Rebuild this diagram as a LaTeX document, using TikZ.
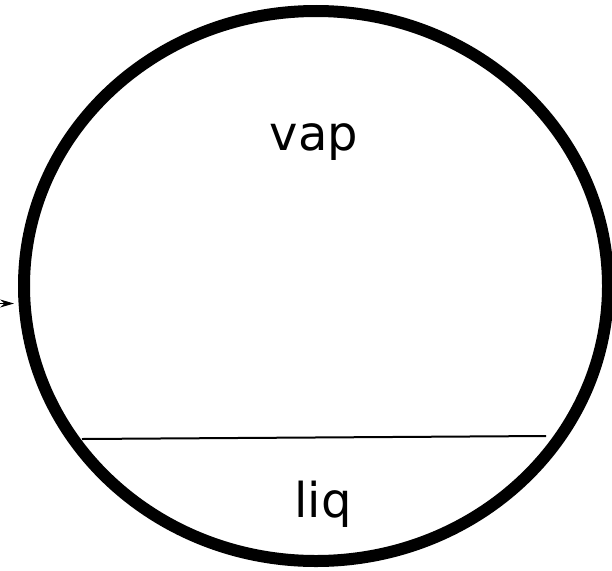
\documentclass[tikz,border=0pt]{standalone}
\usepackage{fontspec}
\setmainfont{DejaVu Sans}
\usepackage{tikz}
\usetikzlibrary{arrows.meta}

\begin{document}
\begin{tikzpicture}[x=1pt,y=-1pt,
    phase/.style={anchor=base,inner sep=0pt,font=\fontsize{48}{58}\selectfont}]
  \useasboundingbox (0,0) rectangle (612,570);
  % vessel
  \coordinate (tank) at (316,286);
  \draw[line width=12pt] (tank) ellipse [x radius=292, y radius=275];
  % liquid level
  \coordinate (lvlL) at (82,439);
  \coordinate (lvlR) at (546,436);
  \draw[line width=2pt] (lvlL) -- (lvlR);
  % feed
  \coordinate (feedA) at (0,303.5);
  \coordinate (feedB) at (14,303.5);
  \draw[line width=1pt,-{Stealth[length=14pt,width=8pt]}] (feedA) -- (feedB);
  \node[phase] (vap) at (314,150) {vap};
  \node[phase] (liq) at (323,517) {liq};
\end{tikzpicture}
\end{document}
